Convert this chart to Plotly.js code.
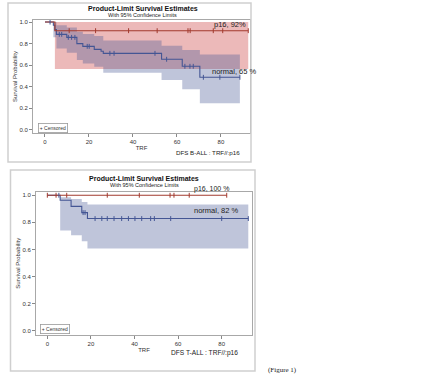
<!DOCTYPE html>
<html><head><meta charset="utf-8">
<script src="https://cdn.plot.ly/plotly-3.0.1.min.js"></script>
<style>html,body{margin:0;padding:0;background:#fff}#c{width:436px;height:388px}</style>
</head><body><div id="c"></div>
<script>
// ---------- Panel 1: DFS B-ALL ----------
const b_p16_t = [0, 4.5];
const b_p16_s = [1.0, 0.92];
const b_p16_end = 92.4;
const b_p16_cens = [11, 23, 38, 51, 65, 66, 76.5, 80.8, 92.4];
const b_p16_ci_t = [4.5];
const b_p16_ci_lo = [0.565];
const b_p16_ci_hi = [1.0];

const b_norm_t = [0, 3.8, 4.5, 5.2, 9.9, 14.5, 17.2, 22.4, 25.5, 26.5, 53.0, 62.4, 70.4];
const b_norm_s = [1.0, 0.97, 0.93, 0.886, 0.858, 0.80, 0.775, 0.747, 0.73, 0.71, 0.655, 0.59, 0.488];
const b_norm_end = 88.6;
const b_norm_cens = [2.3, 6.5, 7.6, 10.6, 12.1, 13.6, 19.2, 20.1, 29.5, 31.4, 50.0, 55.3, 63.6, 65.9, 67.4, 72.0, 79.5, 88.6];
const b_norm_ci_t = [3.8, 5.2, 9.9, 14.5, 17.2, 22.4, 26.5, 53.0, 62.4, 70.4];
const b_norm_ci_lo = [0.86, 0.756, 0.716, 0.648, 0.617, 0.586, 0.53, 0.463, 0.377, 0.247];
const b_norm_ci_hi = [1.0, 0.97, 0.95, 0.91, 0.89, 0.87, 0.83, 0.78, 0.74, 0.70];

// ---------- Panel 2: DFS T-ALL ----------
const t_p16_t = [0];
const t_p16_s = [1.0];
const t_p16_end = 82.3;
const t_p16_cens = [0, 4.0, 8.9, 27.5, 42.2, 56.3, 58.1, 65.1, 82.3];

const t_norm_t = [0, 5.9, 10.9, 15.8, 18.4];
const t_norm_s = [1.0, 0.963, 0.918, 0.872, 0.828];
const t_norm_end = 92.2;
const t_norm_cens = [5.3, 16.4, 17.3, 21.9, 25.0, 27.5, 30.6, 34.1, 37.2, 40.2, 43.3, 47.4, 49.1, 56.6, 80.0, 92.2];
const t_norm_ci_t = [5.9, 10.9, 15.8, 18.4];
const t_norm_ci_lo = [0.74, 0.705, 0.661, 0.607];
const t_norm_ci_hi = [0.985, 0.972, 0.95, 0.932];

const xTicks = [0, 20, 40, 60, 80];
const yTicks = [0, 0.2, 0.4, 0.6, 0.8, 1.0];

const BLUE = '#445694', RED = '#A23A2E';
const BLUEF = 'rgba(68,86,148,0.34)', REDF = 'rgba(205,70,70,0.38)';

function stepXY(t, s, end){ return {x: t.concat([end]), y: s.concat([s[s.length-1]])}; }
function valAt(t, s, x){ let v = s[0]; for(let i=0;i<t.length;i++){ if(t[i] <= x) v = s[i]; } return v; }

function band(t, lo, hi, end, color, xa, ya){
  const L = stepXY(t, lo, end), H = stepXY(t, hi, end);
  return [
    {x:L.x, y:L.y, type:'scatter', mode:'lines', line:{shape:'hv', width:0}, hoverinfo:'skip', xaxis:xa, yaxis:ya, showlegend:false},
    {x:H.x, y:H.y, type:'scatter', mode:'lines', line:{shape:'hv', width:0}, fill:'tonexty', fillcolor:color, hoverinfo:'skip', xaxis:xa, yaxis:ya, showlegend:false}
  ];
}
function curve(t, s, end, color, xa, ya){
  const P = stepXY(t, s, end);
  return {x:P.x, y:P.y, type:'scatter', mode:'lines', line:{shape:'hv', width:1.1, color:color}, xaxis:xa, yaxis:ya, showlegend:false};
}
function cens(ct, t, s, color, xa, ya){
  return {x:ct, y:ct.map(v=>valAt(t, s, v)), type:'scatter', mode:'markers',
    marker:{symbol:'line-ns', size:3.5, line:{width:1, color:color}, color:color}, xaxis:xa, yaxis:ya, showlegend:false};
}

const data = [].concat(
  band(b_p16_ci_t, b_p16_ci_lo, b_p16_ci_hi, b_p16_end, REDF, 'x', 'y'),
  band(b_norm_ci_t, b_norm_ci_lo, b_norm_ci_hi, b_norm_end, BLUEF, 'x', 'y'),
  [curve(b_norm_t, b_norm_s, b_norm_end, BLUE, 'x', 'y'),
   curve(b_p16_t, b_p16_s, b_p16_end, RED, 'x', 'y'),
   cens(b_norm_cens, b_norm_t, b_norm_s, BLUE, 'x', 'y'),
   cens(b_p16_cens, b_p16_t, b_p16_s, RED, 'x', 'y')],
  band(t_norm_ci_t, t_norm_ci_lo, t_norm_ci_hi, t_norm_end, BLUEF, 'x2', 'y2'),
  [curve(t_norm_t, t_norm_s, t_norm_end, BLUE, 'x2', 'y2'),
   curve(t_p16_t, t_p16_s, t_p16_end, RED, 'x2', 'y2'),
   cens(t_norm_cens, t_norm_t, t_norm_s, BLUE, 'x2', 'y2'),
   cens(t_p16_cens, t_p16_t, t_p16_s, RED, 'x2', 'y2')]
);

const W = 436, H = 388;
const px = v => v / W, py = v => 1 - v / H;
const FONT = 'Liberation Sans, Arial, sans-serif';
const tickFont = {family: FONT, size: 6, color: '#333'};
function xax(dom, range, anchor){
  return {domain: dom, range: range, anchor: anchor, tickvals: xTicks, ticks: 'outside', ticklen: 3, tickcolor: '#888',
    showline: true, mirror: true, linecolor: '#a8a8a8', linewidth: 1, showgrid: false, zeroline: false, tickfont: tickFont,
    title: {text: 'TRF', font: {family: FONT, size: 6, color: '#333'}, standoff: 0}};
}
function yax(dom, range, anchor){
  return {domain: dom, range: range, anchor: anchor, tickvals: yTicks, tickformat: '.1f', ticks: 'outside', ticklen: 3, tickcolor: '#888',
    showline: true, mirror: true, linecolor: '#a8a8a8', linewidth: 1, showgrid: false, zeroline: false, tickfont: tickFont,
    title: {text: 'Survival Probability', font: {family: FONT, size: 6, color: '#333'}, standoff: 1}};
}

const ann = (x, y, text, opts) => Object.assign({xref: 'paper', yref: 'paper', x: px(x), y: py(y), text: text, showarrow: false,
  xanchor: 'center', yanchor: 'middle', font: {family: FONT, size: 7, color: '#222'}}, opts || {});

const layout = {
  width: W, height: H, margin: {l: 0, r: 0, t: 0, b: 0}, paper_bgcolor: '#fff', plot_bgcolor: '#fff', showlegend: false,
  xaxis: xax([px(33), px(250)], [-5.45, 93.2], 'y'),
  yaxis: yax([py(133), py(20)], [-0.028, 1.019], 'x'),
  xaxis2: xax([px(36), px(252)], [-5.2, 93.9], 'y2'),
  yaxis2: yax([py(334.5), py(192)], [-0.027, 1.024], 'x2'),
  shapes: [
    {type: 'rect', xref: 'paper', yref: 'paper', x0: px(8), x1: px(251), y0: py(162), y1: py(3), line: {color: '#cfcfcf', width: 1.5}},
    {type: 'rect', xref: 'paper', yref: 'paper', x0: px(10.5), x1: px(255), y0: py(371), y1: py(170), line: {color: '#cfcfcf', width: 1.5}}
  ],
  annotations: [
    ann(142.5, 8.5, '<b>Product-Limit Survival Estimates</b>', {font: {family: FONT, size: 7, color: '#111'}}),
    ann(142.5, 15.5, 'With 95% Confidence Limits', {font: {family: FONT, size: 5.5, color: '#222'}}),
    ann(230, 25, 'p16, 92%', {font: {family: FONT, size: 7.5, color: '#222'}}),
    ann(234, 71, 'normal, 65 %', {font: {family: FONT, size: 7.5, color: '#222'}}),
    ann(38, 128, '+ Censored', {xanchor: 'left', font: {family: FONT, size: 5, color: '#333'}, bordercolor: '#999', borderwidth: 0.8, borderpad: 1, bgcolor: '#fff'}),
    ann(207.5, 153, 'DFS B-ALL : TRF//:p16', {font: {family: FONT, size: 6.2, color: '#222'}}),

    ann(144, 178.5, '<b>Product-Limit Survival Estimates</b>', {font: {family: FONT, size: 7, color: '#111'}}),
    ann(144, 185, 'With 95% Confidence Limits', {font: {family: FONT, size: 5.5, color: '#222'}}),
    ann(211, 188.5, 'p16, 100 %', {font: {family: FONT, size: 7, color: '#222'}}),
    ann(216.5, 210, 'normal, 82 %', {font: {family: FONT, size: 7.5, color: '#222'}}),
    ann(40, 329, '+ Censored', {xanchor: 'left', font: {family: FONT, size: 5, color: '#333'}, bordercolor: '#999', borderwidth: 0.8, borderpad: 1, bgcolor: '#fff'}),
    ann(204.5, 353, 'DFS T-ALL : TRF//:p16', {font: {family: FONT, size: 6.6, color: '#222'}}),

    ann(282.5, 370, '(Figure 1)', {font: {family: 'Liberation Serif, Times New Roman, serif', size: 7, color: '#222'}})
  ]
};

Plotly.newPlot('c', data, layout, {staticPlot: true, displayModeBar: false});
</script>
</body></html>
